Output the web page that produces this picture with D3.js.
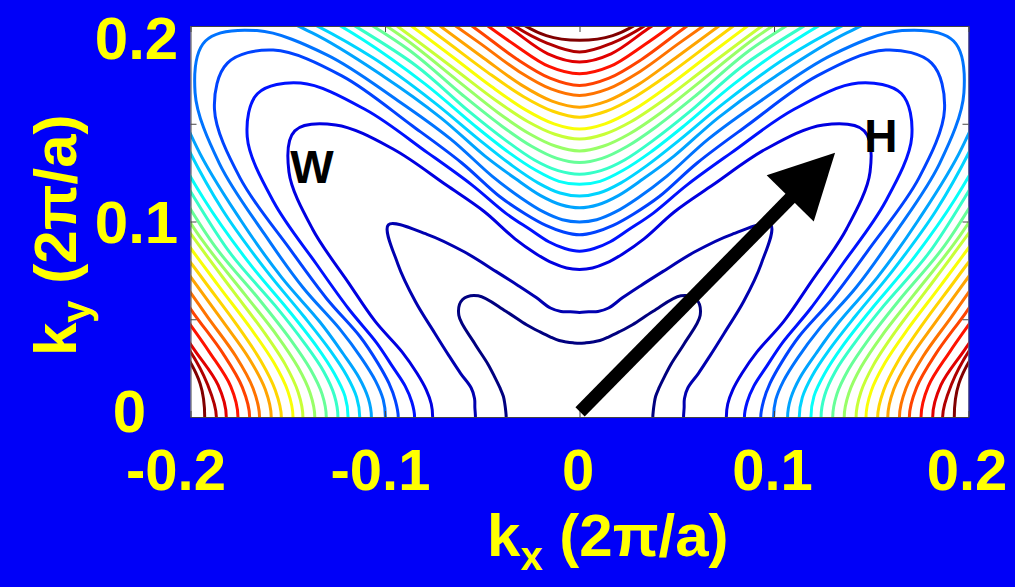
<!DOCTYPE html>
<html lang="en">
<head>
  <meta charset="UTF-8">
  <title>Contornos de energia</title>
  <script src="https://cdn.jsdelivr.net/npm/d3@7"></script>
  <style>
    body { margin: 0; background: #0000f8; }
    text { font-family: Arial, "Liberation Sans", sans-serif; font-weight: bold; }
  </style>
</head>
<body>

<div id="grafica"></div>

<script>
// rays (degrees from the kx axis) where each contour radius was read, first octant
rayAngles = [0, 5, 10, 15, 20, 25, 30, 35, 40, 45]

// radius of each contour level along those rays, in units of 2pi/a (level 1 = lowest)
levelRadii = [
  [0.0377, 0.0381, 0.0390, 0.0405, 0.0435, 0.0480, 0.0545, 0.066, 0.081, 0.085],
  [0.0535, 0.0540, 0.0548, 0.0577, 0.0650, 0.0740, 0.0860, 0.103, 0.122, 0.139],
  [0.0755, 0.0765, 0.0800, 0.0865, 0.0970, 0.1160, 0.1370, 0.1675, 0.195, 0.207],
  [0.0848, 0.0865, 0.0910, 0.0995, 0.1110, 0.1310, 0.1560, 0.192, 0.223, 0.234],
  [0.0932, 0.0950, 0.0995, 0.1075, 0.1200, 0.1435, 0.1720, 0.213, 0.245, 0.256],
  [0.0998, 0.1013, 0.1065, 0.1160, 0.1310, 0.1570, 0.1870, 0.226, 0.258, 0.272],
  [0.1070, 0.1090, 0.1150, 0.1260, 0.1420, 0.1690, 0.2010, 0.240, 0.276, 0.292],
  [0.1130, 0.1150, 0.1215, 0.1330, 0.1510, 0.1780, 0.2120, 0.249, 0.290, 0.305],
  [0.1190, 0.1210, 0.1280, 0.1400, 0.1590, 0.1880, 0.2230, 0.262, 0.305, 0.320],
  [0.1242, 0.1265, 0.1335, 0.1465, 0.1665, 0.1980, 0.2310, 0.273, 0.320, 0.337],
  [0.1302, 0.1328, 0.1405, 0.1540, 0.1750, 0.2070, 0.2410, 0.286, 0.335, 0.355],
  [0.1361, 0.1390, 0.1470, 0.1610, 0.1830, 0.2140, 0.2500, 0.300, 0.350, 0.370],
  [0.1422, 0.1452, 0.1535, 0.1680, 0.1900, 0.2200, 0.2600, 0.310, 0.365, 0.385],
  [0.1473, 0.1505, 0.1595, 0.1750, 0.1980, 0.2290, 0.2700, 0.320, 0.380, 0.400],
  [0.1533, 0.1570, 0.1665, 0.1825, 0.2060, 0.2380, 0.2800, 0.335, 0.390, 0.415],
  [0.1585, 0.1622, 0.1725, 0.1900, 0.2140, 0.2460, 0.2900, 0.345, 0.400, 0.430],
  [0.1645, 0.1685, 0.1795, 0.1980, 0.2220, 0.2550, 0.3000, 0.355, 0.415, 0.445],
  [0.1696, 0.1740, 0.1860, 0.2055, 0.2300, 0.2640, 0.3100, 0.365, 0.430, 0.460],
  [0.1756, 0.1800, 0.1935, 0.2130, 0.2380, 0.2730, 0.3200, 0.375, 0.440, 0.475],
  [0.1816, 0.1865, 0.2015, 0.2210, 0.2460, 0.2820, 0.3300, 0.385, 0.450, 0.490],
  [0.1867, 0.1920, 0.2045, 0.2280, 0.2540, 0.2900, 0.3400, 0.395, 0.460, 0.505],
  [0.1927, 0.1958, 0.2085, 0.2350, 0.2620, 0.3000, 0.3500, 0.405, 0.470, 0.520]
]

kxTicks = [-0.2, -0.1, 0, 0.1, 0.2]
kyTicks = [0, 0.05, 0.1, 0.15, 0.2]
kyLabeled = [0, 0.1, 0.2]

// annotations, in k units
pointLabels = [
  { name: 'W', kx: -0.1375, ky: 0.128 },
  { name: 'H', kx: 0.155, ky: 0.144 }
]
arrowFrom = [0.0003, 0.0026]
arrowTo = [0.1314, 0.1352]

ancho = 1015
alto = 587

svg = d3.select('#grafica')
        .append('svg')
        .attr('width', ancho)
        .attr('height', alto)

svg.append('rect')
   .attr('width', ancho)
   .attr('height', alto)
   .attr('fill', '#0000f8')

x = d3.scaleLinear()
      .domain([-0.2, 0.2])
      .range([190.5, 968.5])
y = d3.scaleLinear()
      .domain([0, 0.2])
      .range([417, 26])

// matlab style jet colormap
function jet(t) {
  c = v => Math.round(255 * Math.max(0, Math.min(1, v)))
  return d3.rgb(c(1.5 - Math.abs(4 * t - 3)),
                c(1.5 - Math.abs(4 * t - 2)),
                c(1.5 - Math.abs(4 * t - 1)))
}

svg.append('clipPath')
   .attr('id', 'area')
   .append('rect')
   .attr('x', x(-0.2)).attr('y', y(0.2))
   .attr('width', x(0.2) - x(-0.2))
   .attr('height', y(0) - y(0.2))

svg.append('rect')
   .attr('x', x(-0.2)).attr('y', y(0.2))
   .attr('width', x(0.2) - x(-0.2))
   .attr('height', y(0) - y(0.2))
   .attr('fill', 'white')

// the surface has cubic symmetry, so the octant readings give the whole ring
function ring(radii) {
  pts = []
  for (deg = 0; deg < 360; deg += 5) {
    a = deg % 90
    i = rayAngles.indexOf(a <= 45 ? a : 90 - a)
    phi = deg * Math.PI / 180
    pts.push([radii[i] * Math.cos(phi), radii[i] * Math.sin(phi)])
  }
  return pts
}

line = d3.line()
         .x(d => x(d[0]))
         .y(d => y(d[1]))
         .curve(d3.curveCatmullRomClosed.alpha(0.5))

svg.append('g')
   .attr('clip-path', 'url(#area)')
   .selectAll('path')
   .data(levelRadii)
   .enter()
   .append('path')
   .attr('d', d => line(ring(d)))
   .attr('fill', 'none')
   .attr('stroke', (d, i) => jet(i / (levelRadii.length - 1)))
   .attr('stroke-width', 3)

// frame and inward ticks on all four sides
function frame(g) {
  g.select('.domain').attr('stroke', '#444')
  g.selectAll('.tick line').attr('stroke', '#444')
}
svg.append('g')
   .attr('transform', 'translate(0,' + y(0) + ')')
   .call(d3.axisBottom(x).tickValues(kxTicks).tickSize(-6).tickSizeOuter(0).tickPadding(32)
           .tickFormat(d => d === 0 ? '0' : String(d)))
   .call(frame)
   .call(g => g.selectAll('text')
               .attr('fill', '#ffff00')
               .attr('font-size', 58)
               .attr('dx', d => d === -0.2 ? -15 : (d < 0 ? -5 : -2)))
svg.append('g')
   .attr('transform', 'translate(0,' + y(0.2) + ')')
   .call(d3.axisTop(x).tickValues(kxTicks).tickSize(-6).tickSizeOuter(0).tickFormat(''))
   .call(frame)
svg.append('g')
   .attr('transform', 'translate(' + x(-0.2) + ',0)')
   .call(d3.axisLeft(y).tickValues(kyTicks).tickSize(-6).tickSizeOuter(0).tickPadding(0)
           .tickFormat(d => kyLabeled.includes(d) ? String(d) : ''))
   .call(frame)
   .call(g => g.selectAll('text')
               .attr('fill', '#ffff00')
               .attr('font-size', 60)
               .attr('text-anchor', 'middle')
               .attr('x', d => d === 0 ? -61 : -54)
               .attr('dy', d => d === 0.2 ? 32 : (d === 0 ? 14 : 21)))
svg.append('g')
   .attr('transform', 'translate(' + x(0.2) + ',0)')
   .call(d3.axisRight(y).tickValues(kyTicks).tickSize(-6).tickSizeOuter(0).tickFormat(''))
   .call(frame)

// arrow toward H
x0 = x(arrowFrom[0]), y0 = y(arrowFrom[1])
x1 = x(arrowTo[0]), y1 = y(arrowTo[1])
len = Math.hypot(x1 - x0, y1 - y0)
ux = (x1 - x0) / len, uy = (y1 - y0) / len
headLen = 64, headHalf = 33
bx = x1 - ux * headLen, by = y1 - uy * headLen
svg.append('line')
   .attr('x1', x0).attr('y1', y0)
   .attr('x2', bx + ux * 2).attr('y2', by + uy * 2)
   .attr('stroke', 'black')
   .attr('stroke-width', 13)
svg.append('polygon')
   .attr('points', [[x1, y1], [bx - uy * headHalf, by + ux * headHalf], [bx + uy * headHalf, by - ux * headHalf]].join(' '))
   .attr('fill', 'black')

svg.selectAll('.pt')
   .data(pointLabels)
   .enter()
   .append('text')
   .attr('class', 'pt')
   .attr('x', d => x(d.kx))
   .attr('y', d => y(d.ky))
   .attr('dy', '0.36em')
   .attr('text-anchor', 'middle')
   .attr('font-size', 46)
   .attr('fill', 'black')
   .text(d => d.name)

// axis titles
xt = svg.append('text')
        .attr('x', 487).attr('y', 556)
        .attr('fill', '#ffff00')
        .attr('font-size', 60)
xt.append('tspan').text('k')
xt.append('tspan').attr('font-size', 40).attr('dy', 14).text('x')
xt.append('tspan').attr('dy', -14).text(' (2\u03c0/a)')

yt = svg.append('text')
        .attr('transform', 'translate(76,356) rotate(-90)')
        .attr('fill', '#ffff00')
        .attr('font-size', 60)
yt.append('tspan').text('k')
yt.append('tspan').attr('font-size', 40).attr('dy', 14).text('y')
yt.append('tspan').attr('dy', -14).text(' (2\u03c0/a)')
</script>
</body>
</html>
